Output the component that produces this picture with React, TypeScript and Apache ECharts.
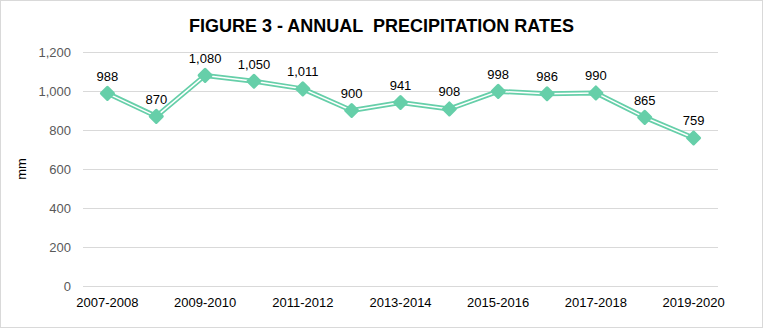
import React, { useEffect, useRef } from "react";
import * as echarts from "echarts";

const categories = [
  "2007-2008", "2008-2009", "2009-2010", "2010-2011", "2011-2012", "2012-2013", "2013-2014",
  "2014-2015", "2015-2016", "2016-2017", "2017-2018", "2018-2019", "2019-2020",
];
const precipitation = [988, 870, 1080, 1050, 1011, 900, 941, 908, 998, 986, 990, 865, 759];
const titleText = "FIGURE 3 - ANNUAL  PRECIPITATION RATES";
const yAxisName = "mm";

const GREEN = "#66CFA9";
const FONT = "'Liberation Sans', Arial, sans-serif";

export default function App() {
  const ref = useRef<HTMLDivElement>(null);
  useEffect(() => {
    document.body.style.margin = "0";
    if (!ref.current) return;
    const chart = echarts.init(ref.current, undefined, { renderer: "svg" });
    chart.setOption({
      animation: false,
      backgroundColor: "#fff",
      textStyle: { fontFamily: FONT },
      title: {
        text: titleText,
        left: "center",
        top: 11,
        textStyle: { fontFamily: FONT, fontSize: 18, fontWeight: "bold", color: "#000" },
      },
      grid: { left: 82, right: 44, top: 51, bottom: 41 },
      xAxis: {
        type: "category",
        data: categories,
        boundaryGap: true,
        axisLine: { show: false },
        axisTick: { show: false },
        axisLabel: { interval: 1, color: "#000", fontSize: 13, fontFamily: FONT, margin: 10 },
      },
      yAxis: {
        type: "value",
        min: 0,
        max: 1200,
        interval: 200,
        name: yAxisName,
        nameLocation: "middle",
        nameGap: 54,
        nameRotate: 90,
        nameTextStyle: { color: "#000", fontSize: 13, fontFamily: FONT },
        axisLine: { show: false },
        axisTick: { show: false },
        splitLine: { lineStyle: { color: "#d9d9d9", width: 1 } },
        axisLabel: {
          color: "#595959",
          fontSize: 13,
          fontFamily: FONT,
          margin: 12,
          formatter: (v: number) => v.toLocaleString("en-US"),
        },
      },
      series: [
        {
          type: "line",
          data: precipitation,
          symbol: "none",
          lineStyle: { color: GREEN, width: 5 },
          z: 2,
        },
        {
          type: "line",
          data: precipitation,
          symbol: "none",
          lineStyle: { color: "#fff", width: 1.5 },
          z: 3,
        },
        {
          type: "line",
          data: precipitation,
          symbol: "diamond",
          symbolSize: 12,
          lineStyle: { width: 0, opacity: 0 },
          itemStyle: { color: GREEN, borderColor: GREEN, borderWidth: 3, borderJoin: "round" },
          label: {
            show: true,
            position: "top",
            distance: 3,
            color: "#000",
            fontSize: 13,
            fontFamily: FONT,
            formatter: (p: any) => Number(p.value).toLocaleString("en-US"),
          },
          z: 4,
        },
      ],
    });
    return () => chart.dispose();
  }, []);
  return (
    <div
      ref={ref}
      style={{
        width: 763,
        height: 328,
        boxSizing: "border-box",
        border: "1px solid #d9d9d9",
      }}
    />
  );
}
